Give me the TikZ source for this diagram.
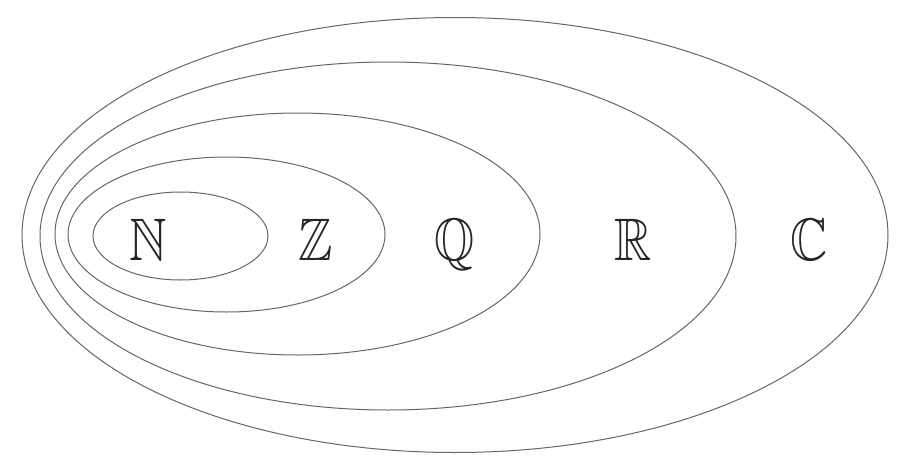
\documentclass[tikz,border=0pt]{standalone}
\usepackage{amssymb}
\usetikzlibrary{shapes.geometric}
\newcommand{\bbl}[1]{\scalebox{0.86}[1]{$\mathbb{#1}$}}
\begin{document}
\begin{tikzpicture}[x=1pt,y=-1pt,
  setline/.style={draw=black!60, line width=1pt, ellipse, inner sep=0pt},
  setlabel/.style={anchor=base, inner sep=0pt, text=black!85, font=\fontsize{60}{70}\selectfont}]
\useasboundingbox (0,0) rectangle (914,466);
\node[setline, minimum width=866pt, minimum height=435pt] (eC) at (455,235) {};
\node[setline, minimum width=696pt, minimum height=348pt] (eR) at (388,236) {};
\node[setline, minimum width=485pt, minimum height=242pt] (eQ) at (297.5,234) {};
\node[setline, minimum width=317pt, minimum height=155pt] (eZ) at (226.5,234.5) {};
\node[setline, minimum width=175pt, minimum height=88pt] (eN) at (180.5,236) {};
\node[setlabel] (N) at (148,260) {\bbl{N}};
\node[setlabel] (Z) at (316,260) {\bbl{Z}};
\node[setlabel] (Q) at (455,260) {\bbl{Q}};
\node[setlabel] (R) at (633,260) {\bbl{R}};
\node[setlabel] (C) at (809,260) {\bbl{C}};
\end{tikzpicture}
\end{document}
